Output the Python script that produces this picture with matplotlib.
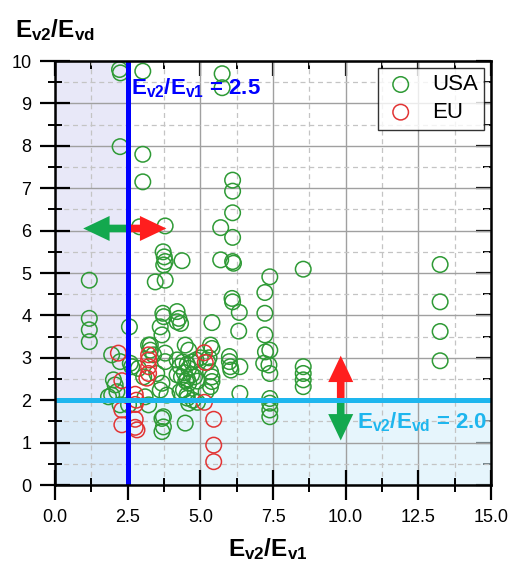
import matplotlib
matplotlib.use("Agg")
import matplotlib.pyplot as plt
from matplotlib.ticker import MultipleLocator, FormatStrFormatter

plt.rcParams['font.family'] = ['Liberation Sans', 'DejaVu Sans']
plt.rcParams['mathtext.fontset'] = 'custom'
plt.rcParams['mathtext.rm'] = 'Liberation Sans'
plt.rcParams['mathtext.it'] = 'Liberation Sans:italic'
plt.rcParams['mathtext.bf'] = 'Liberation Sans:bold'

# ---------------- data ----------------
usa_x = [2.22, 2.25, 3.02, 5.75, 5.75,
         2.24, 3.02, 3.02, 6.11, 6.11,
         2.91, 3.79, 5.70, 6.11, 6.11,
         3.72, 3.76, 3.79, 3.74, 4.37, 5.70, 6.11, 6.14, 8.54, 13.25,
         1.18, 3.45, 3.79, 7.39, 7.22,
         6.09, 6.11, 13.25,
         3.71, 3.74, 4.20, 4.26, 4.32, 4.20, 6.34, 7.22,
         1.18, 1.18, 1.18, 3.62, 2.56, 5.40, 6.32, 7.22, 13.25,
         3.28, 7.39, 7.24, 13.25, 3.68,
         1.95, 2.24, 2.59, 2.64, 2.87, 3.05,
         3.22, 3.28, 3.39, 3.79, 3.79,
         4.48, 4.60,
         4.20, 4.40, 4.55, 4.70, 4.85, 5.00, 4.30, 4.60,
         4.20, 4.35, 4.45, 4.55, 4.70, 4.50, 4.60, 4.80, 4.90,
         2.01, 2.07, 3.50, 3.68, 3.62, 3.85, 3.10, 3.22,
         4.30, 4.42, 4.54, 4.60, 4.75, 4.90, 4.55,
         3.68, 3.73, 3.68, 4.48, 3.73,
         1.84, 1.95, 2.13, 2.53, 2.24,
         5.35, 5.40, 5.35, 5.40, 5.40, 5.35, 5.20, 5.30, 5.25,
         6.00, 6.00, 6.03, 6.05, 6.36, 6.36,
         7.18, 7.36, 7.39,
         8.54, 8.54, 8.54, 8.54,
         7.39, 7.39, 7.39, 7.39]
usa_y = [9.80, 9.72, 9.76, 9.70, 9.37,
         7.98, 7.80, 7.15, 7.19, 6.93,
         6.09, 6.11, 6.07, 6.42, 5.84,
         5.50, 5.38, 5.27, 5.19, 5.29, 5.31, 5.27, 5.23, 5.09, 5.20,
         4.83, 4.79, 4.83, 4.91, 4.54,
         4.40, 4.32, 4.32,
         4.05, 3.97, 4.09, 3.93, 3.81, 3.85, 4.07, 4.05,
         3.93, 3.66, 3.38, 3.73, 3.73, 3.83, 3.63, 3.54, 3.62,
         3.30, 3.18, 3.14, 2.93, 3.54,
         3.07, 2.91, 2.87, 2.79, 2.75, 2.55,
         3.30, 3.18, 3.07, 3.11, 2.91,
         3.30, 3.18,
         2.95, 2.90, 2.85, 2.90, 2.95, 3.00, 2.80, 2.75,
         2.60, 2.55, 2.65, 2.50, 2.60, 2.45, 2.40, 2.55, 2.45,
         2.48, 2.36, 2.63, 2.40, 2.24, 2.12, 2.08, 1.89,
         2.20, 2.24, 2.12, 1.93, 2.00, 1.95, 2.05,
         1.57, 1.37, 1.26, 1.46, 1.61,
         2.08, 2.12, 2.20, 1.89, 1.89,
         3.30, 3.22, 2.67, 2.55, 2.44, 2.32, 2.20, 3.00, 2.90,
         3.03, 2.91, 2.79, 2.71, 2.79, 2.16,
         2.87, 2.83, 2.63,
         2.79, 2.63, 2.48, 2.32,
         2.04, 1.93, 1.77, 1.61]

eu_x = [2.18, 2.30, 3.22, 3.22, 3.22, 3.22, 3.16,
        2.76, 2.80, 2.76, 2.30, 2.30, 2.76, 2.76, 2.82,
        5.14, 5.17, 5.14, 5.46, 5.46, 5.46]
eu_y = [3.11, 2.46, 3.07, 2.95, 2.79, 2.63, 2.52,
        2.14, 2.00, 1.90, 1.77, 1.42, 1.55, 1.36, 1.30,
        3.12, 2.89, 1.95, 1.55, 0.94, 0.55]

ratio_v1 = 2.5
ratio_vd = 2.0
x_ticks = [0.0, 2.5, 5.0, 7.5, 10.0, 12.5, 15.0]
y_ticks = list(range(0, 11))

# ---------------- figure ----------------
fig = plt.figure(figsize=(5.16, 5.73), dpi=100)
ax = fig.add_axes([55/516, 88/573, (491-55)/516, (485-61)/573])
ax.set_xlim(0, 15)
ax.set_ylim(0, 10)

# shaded regions
ax.axvspan(0, ratio_v1, color='#E8E8F8', zorder=0, lw=0)
ax.axhspan(0, ratio_vd, color='#D2EEFA', alpha=0.55, zorder=0.1, lw=0)

# grid
ax.xaxis.set_major_locator(MultipleLocator(2.5))
ax.xaxis.set_minor_locator(MultipleLocator(1.25))
ax.yaxis.set_major_locator(MultipleLocator(1))
ax.yaxis.set_minor_locator(MultipleLocator(0.5))
ax.set_xticks(x_ticks)
ax.set_yticks(y_ticks)
ax.xaxis.set_major_formatter(FormatStrFormatter('%.1f'))
ax.yaxis.set_major_formatter(FormatStrFormatter('%d'))
ax.grid(which='major', color='#A0A0A0', lw=1.0, zorder=0.5)
ax.grid(which='minor', color='#C4C4C4', lw=0.9, ls=(0, (4, 3)), zorder=0.5)
ax.set_axisbelow(True)

# scatter
ax.scatter(usa_x, usa_y, s=125, facecolors='none', edgecolors='#2E9A35',
           linewidths=1.1, zorder=2, label='USA')
ax.scatter(eu_x, eu_y, s=125, facecolors='none', edgecolors='#E23434',
           linewidths=1.1, zorder=2.1, label='EU')

# arrows
def arrow(x0, y0, x1, y1, color):
    ax.annotate('', xy=(x1, y1), xytext=(x0, y0),
                arrowprops=dict(arrowstyle='simple,head_width=1.8,head_length=1.9,tail_width=0.55',
                                color=color, shrinkA=0, shrinkB=0, mutation_scale=10, lw=0),
                zorder=3)

arrow(ratio_v1, 6.05, 0.97, 6.05, '#13A84E')
arrow(ratio_v1, 6.05, 3.83, 6.05, '#FF1E1E')
arrow(9.83, ratio_vd, 9.83, 3.05, '#FF1E1E')
arrow(9.83, ratio_vd, 9.83, 1.05, '#13A84E')

# threshold lines
ax.axvline(ratio_v1, color='#0000FF', lw=3.6, zorder=4)
ax.axhline(ratio_vd, color='#1EB6EE', lw=3.6, zorder=4)

ax.text(2.62, 9.36, r'$\mathbf{E_{v2}/E_{v1}}$ = 2.5', color='#0000FF',
        fontsize=16, fontweight='bold', va='center', ha='left', zorder=5)
ax.text(10.4, 1.49, r'$\mathbf{E_{v2}/E_{vd}}$ = 2.0', color='#1EB6EE',
        fontsize=16, fontweight='bold', va='center', ha='left', zorder=5)

# ticks
ax.tick_params(which='major', direction='inout', length=22, width=1.6,
               labelsize=13, pad=6, top=False, right=False)
ax.tick_params(which='minor', direction='inout', length=10, width=1.4,
               top=False, right=False)
for sp in ax.spines.values():
    sp.set_linewidth(1.8)
    sp.set_zorder(6)

secx = ax.secondary_xaxis('top')
secx.set_xticks(x_ticks)
secx.xaxis.set_minor_locator(MultipleLocator(1.25))
secx.tick_params(which='major', direction='in', length=11, width=1.6, labeltop=False)
secx.tick_params(which='minor', direction='in', length=6, width=1.4)
secy = ax.secondary_yaxis('right')
secy.set_yticks(y_ticks)
secy.yaxis.set_minor_locator(MultipleLocator(0.5))
secy.tick_params(which='major', direction='in', length=11, width=1.6, labelright=False)
secy.tick_params(which='minor', direction='in', length=6, width=1.4)

# labels
fig.text(55/516, 1 - 30/573, r'$\mathbf{E_{v2}/E_{vd}}$', fontsize=17.5,
         ha='center', va='center')
fig.text(268/516, 1 - 549/573, r'$\mathbf{E_{v2}/E_{v1}}$', fontsize=17.5,
         ha='center', va='center')

leg = ax.legend(loc='upper right', fontsize=16, frameon=True, fancybox=False,
                edgecolor='black', borderaxespad=0.3, handletextpad=0.7,
                borderpad=0.3, labelspacing=0.3, handlelength=1.4)
leg.get_frame().set_linewidth(1.0)
leg.set_zorder(7)

fig.savefig('out.png', dpi=100)
